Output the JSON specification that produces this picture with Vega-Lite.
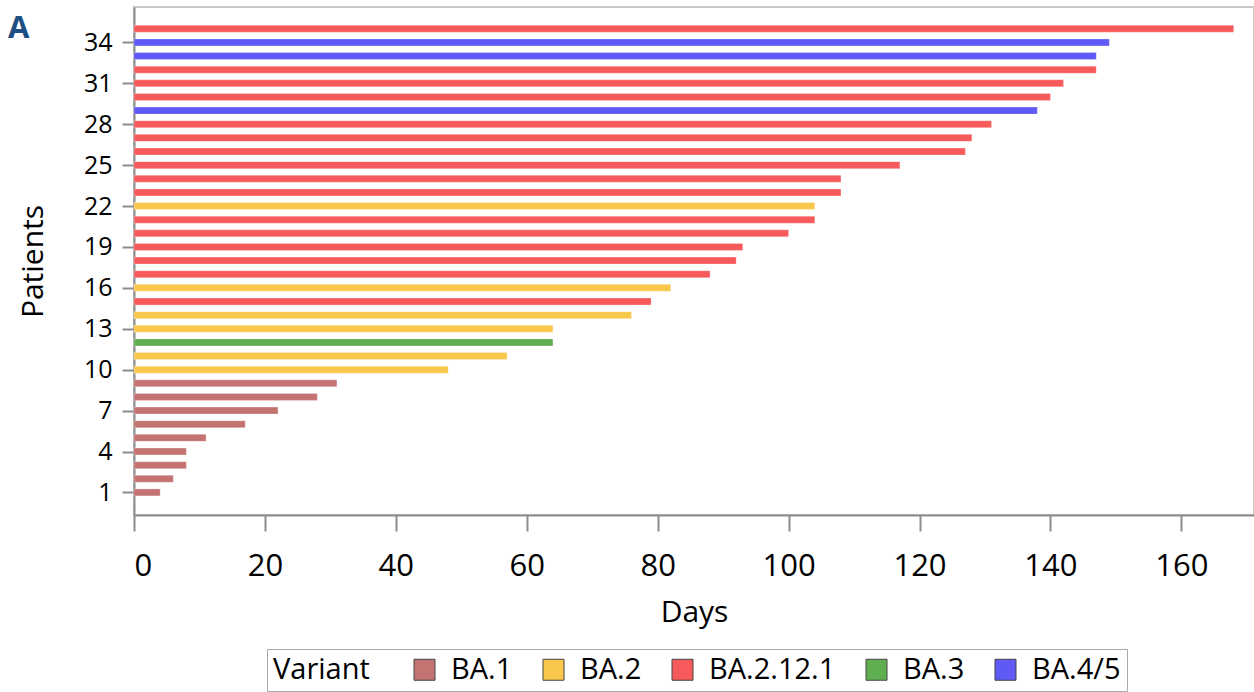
{
  "$schema": "https://vega.github.io/schema/vega-lite/v6.json",
  "autosize": "none",
  "width": 1120,
  "height": 508,
  "padding": {"left": 134, "top": 7, "right": 0, "bottom": 177},
  "background": "white",
  "config": {
    "font": "Open Sans",
    "view": {"stroke": "#c8c8c8", "strokeWidth": 2}
  },
  "layer": [
    {
      "data": {
        "values": [
          {"patient": 1, "days": 4, "variant": "BA.1"},
          {"patient": 2, "days": 6, "variant": "BA.1"},
          {"patient": 3, "days": 8, "variant": "BA.1"},
          {"patient": 4, "days": 8, "variant": "BA.1"},
          {"patient": 5, "days": 11, "variant": "BA.1"},
          {"patient": 6, "days": 17, "variant": "BA.1"},
          {"patient": 7, "days": 22, "variant": "BA.1"},
          {"patient": 8, "days": 28, "variant": "BA.1"},
          {"patient": 9, "days": 31, "variant": "BA.1"},
          {"patient": 10, "days": 48, "variant": "BA.2"},
          {"patient": 11, "days": 57, "variant": "BA.2"},
          {"patient": 12, "days": 64, "variant": "BA.3"},
          {"patient": 13, "days": 64, "variant": "BA.2"},
          {"patient": 14, "days": 76, "variant": "BA.2"},
          {"patient": 15, "days": 79, "variant": "BA.2.12.1"},
          {"patient": 16, "days": 82, "variant": "BA.2"},
          {"patient": 17, "days": 88, "variant": "BA.2.12.1"},
          {"patient": 18, "days": 92, "variant": "BA.2.12.1"},
          {"patient": 19, "days": 93, "variant": "BA.2.12.1"},
          {"patient": 20, "days": 100, "variant": "BA.2.12.1"},
          {"patient": 21, "days": 104, "variant": "BA.2.12.1"},
          {"patient": 22, "days": 104, "variant": "BA.2"},
          {"patient": 23, "days": 108, "variant": "BA.2.12.1"},
          {"patient": 24, "days": 108, "variant": "BA.2.12.1"},
          {"patient": 25, "days": 117, "variant": "BA.2.12.1"},
          {"patient": 26, "days": 127, "variant": "BA.2.12.1"},
          {"patient": 27, "days": 128, "variant": "BA.2.12.1"},
          {"patient": 28, "days": 131, "variant": "BA.2.12.1"},
          {"patient": 29, "days": 138, "variant": "BA.4/5"},
          {"patient": 30, "days": 140, "variant": "BA.2.12.1"},
          {"patient": 31, "days": 142, "variant": "BA.2.12.1"},
          {"patient": 32, "days": 147, "variant": "BA.2.12.1"},
          {"patient": 33, "days": 147, "variant": "BA.4/5"},
          {"patient": 34, "days": 149, "variant": "BA.4/5"},
          {"patient": 35, "days": 168, "variant": "BA.2.12.1"}
        ]
      },
      "mark": {"type": "bar", "orient": "horizontal", "size": 7, "stroke": "white", "strokeOpacity": 0.35, "strokeWidth": 0.8},
      "encoding": {
        "x": {
          "field": "days",
          "type": "quantitative",
          "scale": {"domain": [0, 171.1], "nice": false, "zero": true},
          "axis": {
            "title": "Days",
            "values": [0, 20, 40, 60, 80, 100, 120, 140, 160],
            "grid": false,
            "domainColor": "#8c8c8c",
            "domainWidth": 2,
            "tickColor": "#8c8c8c",
            "tickWidth": 2,
            "tickSize": 16,
            "labelFontSize": 31,
            "labelColor": "#000",
            "labelPadding": 20,
            "titleFontSize": 30,
            "titleFontWeight": "normal",
            "titleColor": "#000",
            "titlePadding": 16
          }
        },
        "y": {
          "field": "patient",
          "type": "quantitative",
          "scale": {"domain": [-0.29, 36.23], "nice": false, "zero": false},
          "axis": {
            "title": "Patients",
            "values": [1, 4, 7, 10, 13, 16, 19, 22, 25, 28, 31, 34],
            "grid": false,
            "domainColor": "#8c8c8c",
            "domainWidth": 2,
            "tickColor": "#8c8c8c",
            "tickWidth": 2,
            "tickSize": 12,
            "labelFontSize": 25,
            "labelColor": "#000",
            "labelPadding": 10,
            "titleFontSize": 30,
            "titleFontWeight": "normal",
            "titleColor": "#000",
            "titlePadding": 35
          }
        },
        "color": {
          "field": "variant",
          "type": "nominal",
          "scale": {
            "domain": ["BA.1", "BA.2", "BA.2.12.1", "BA.3", "BA.4/5"],
            "range": ["#c47373", "#f9c74c", "#f65a5a", "#5fae50", "#5f5af6"]
          },
          "legend": {
            "title": "Variant",
            "orient": "none",
            "legendX": 133,
            "legendY": 642,
            "direction": "horizontal",
            "titleOrient": "left",
            "titleFontSize": 29,
            "titleFontWeight": "normal",
            "titleColor": "#000",
            "titlePadding": 40,
            "labelFontSize": 29,
            "labelColor": "#000",
            "labelOffset": 12,
            "symbolType": "square",
            "symbolSize": 441,
            "symbolStrokeColor": "#444",
            "symbolStrokeWidth": 1,
            "symbolOpacity": 1,
            "columnPadding": 26,
            "strokeColor": "#aaa",
            "padding": 6
          }
        }
      }
    },
    {
      "data": {"values": [{"panel": "A"}]},
      "mark": {"type": "text", "align": "left", "baseline": "alphabetic", "fontSize": 31, "fontWeight": "bold", "font": "Open Sans", "color": "#1d4f82", "clip": false},
      "encoding": {
        "text": {"field": "panel", "type": "nominal"},
        "x": {"datum": -19.25, "type": "quantitative"},
        "y": {"datum": 34.29, "type": "quantitative"}
      }
    }
  ]
}
